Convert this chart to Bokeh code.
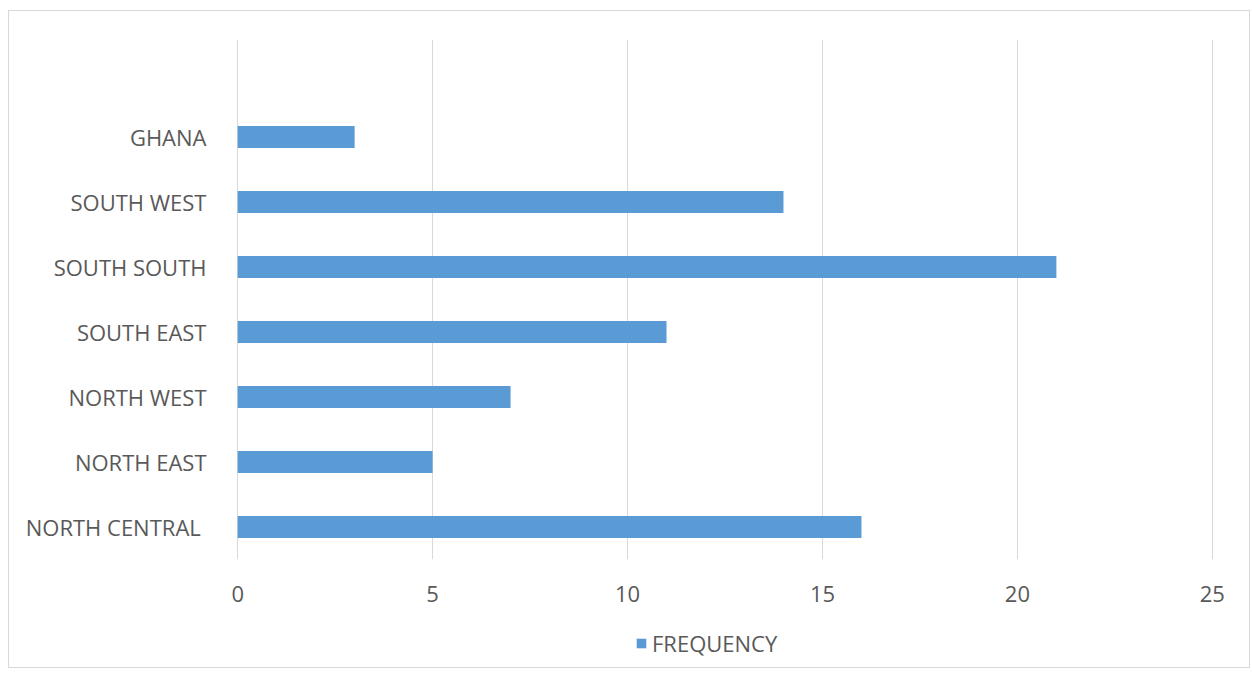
from bokeh.plotting import figure
from bokeh.layouts import column
from bokeh.models import FactorRange, Range1d, Legend, LegendItem, FixedTicker, ColumnDataSource
from bokeh.embed import file_html
from bokeh.resources import INLINE

# Regions listed bottom to top; the last blank slot leaves headroom above GHANA
regions = ["NORTH CENTRAL ", "NORTH EAST", "NORTH WEST", "SOUTH EAST",
           "SOUTH SOUTH", "SOUTH WEST", "GHANA"]
frequency = [16, 5, 7, 11, 21, 14, 3]
x_ticks = [0, 5, 10, 15, 20, 25]

BAR = "#5B9BD5"
GRID = "#D9D9D9"
TEXT = "#595959"
FONT = "Open Sans"

src = ColumnDataSource(dict(region=regions, freq=frequency))

# main bar chart
p = figure(
    frame_width=977, frame_height=520,
    y_range=FactorRange(factors=regions + [" "], range_padding=0),
    x_range=Range1d(-0.03, 25.03),
    output_backend="svg", toolbar_location=None,
    min_border_left=227, min_border_right=36,
    min_border_top=28, min_border_bottom=52,
)

p.hbar(y="region", right="freq", left=0, height=0.34, source=src,
       fill_color=BAR, line_color=None)

p.outline_line_color = None
p.ygrid.grid_line_color = None
p.xgrid.grid_line_color = GRID
p.xgrid.grid_line_width = 1
p.xaxis.ticker = FixedTicker(ticks=x_ticks)

for ax in (p.xaxis[0], p.yaxis[0]):
    ax.axis_line_color = None
    ax.major_tick_line_color = None
    ax.minor_tick_line_color = None
    ax.major_label_text_font = FONT
    ax.major_label_text_font_size = "22px"
    ax.major_label_text_color = TEXT

p.xaxis.major_label_standoff = 20
p.yaxis.major_label_standoff = 24

# strip underneath holding the series key
key = figure(
    width=1240, height=56,
    x_range=Range1d(0, 1), y_range=Range1d(0, 1),
    x_axis_location=None, y_axis_location=None,
    output_backend="svg", toolbar_location=None, min_border=0,
)
key.outline_line_color = None
key.grid.visible = False
# zero-width bar that only supplies the swatch style
swatch = key.hbar(y=[0], left=[0], right=[0], height=0.34,
                  fill_color=BAR, line_color=None)

legend = Legend(items=[LegendItem(label="FREQUENCY", renderers=[swatch])],
                location=(399, 9), orientation="horizontal",
                label_text_font=FONT, label_text_font_size="22px",
                label_text_color=TEXT, glyph_width=12, glyph_height=12,
                label_standoff=5, border_line_color=None,
                background_fill_alpha=0, margin=0, padding=4)
key.add_layout(legend, "center")

chart = column(p, key, spacing=0)
chart.margin = (10, 0, 0, 8)
chart.styles = {"border": "1px solid #D9D9D9"}

open("out.html", "w").write(file_html(chart, INLINE))
